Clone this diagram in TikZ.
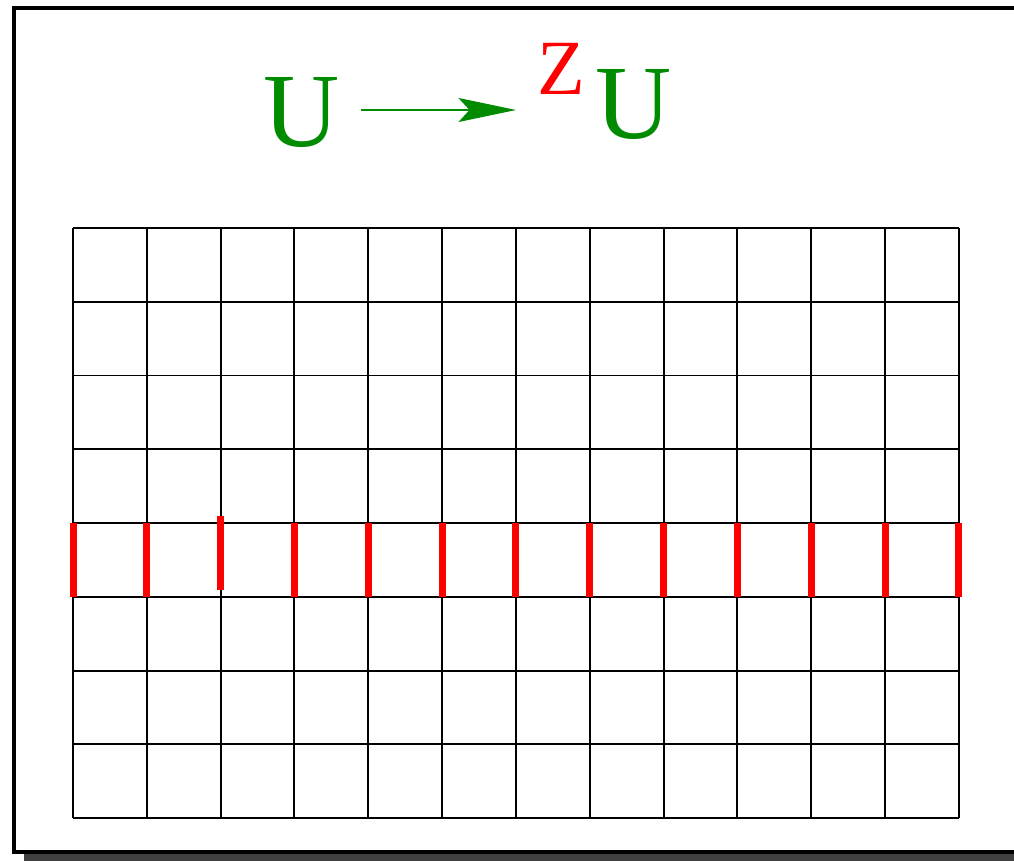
\documentclass[tikz,border=0pt]{standalone}
\usepackage{fontspec}
\setmainfont{Liberation Serif}
\usetikzlibrary{arrows.meta}
\definecolor{dgreen}{RGB}{0,139,0}
\definecolor{shadowgray}{RGB}{64,64,64}
\begin{document}
\begin{tikzpicture}[x=0.02cm,y=-0.02cm,
  gridline/.style={line width=0.04cm,black},
  cutline/.style={line width=0.14cm,red},
  bigU/.style={text=dgreen,inner sep=0,anchor=base,font=\fontsize{60}{62}\selectfont},
  bigZ/.style={text=red,inner sep=0,anchor=base,font=\fontsize{44.5}{46}\selectfont}]
\clip (0,0) rectangle (1014,861);
% shadow and frame
\fill[shadowgray] (24,18) rectangle (1045,880);
\draw[line width=0.09cm,fill=white] (14,8) rectangle (1035,852);
% grid
\foreach \i in {0,...,12}{
  \draw[gridline] ({73+\i*73.83},228) -- ({73+\i*73.83},818);
}
\foreach \j in {0,...,8}{
  \draw[gridline] (73,{228+\j*73.75}) -- (959,{228+\j*73.75});
}
% red cut marks
\foreach \i in {0,1,3,4,5,6,7,8,9,10,11,12}{
  \draw[cutline] ({73+\i*73.83},523) -- ({73+\i*73.83},597);
}
\draw[cutline] ({73+2*73.83},516) -- ({73+2*73.83},590);
% title
\node[bigU] (u1) at (302,147) {U};
\node[bigU] (u2) at (634,139) {U};
\node[bigZ] (z) at (561,95) {Z};
\coordinate (a1) at (361,110);
\coordinate (a2) at (516,110);
\draw[dgreen,line width=0.04cm,-{Stealth[length=1.15cm,width=0.48cm,inset=0.22cm]}] (a1) -- (a2);
\end{tikzpicture}
\end{document}
